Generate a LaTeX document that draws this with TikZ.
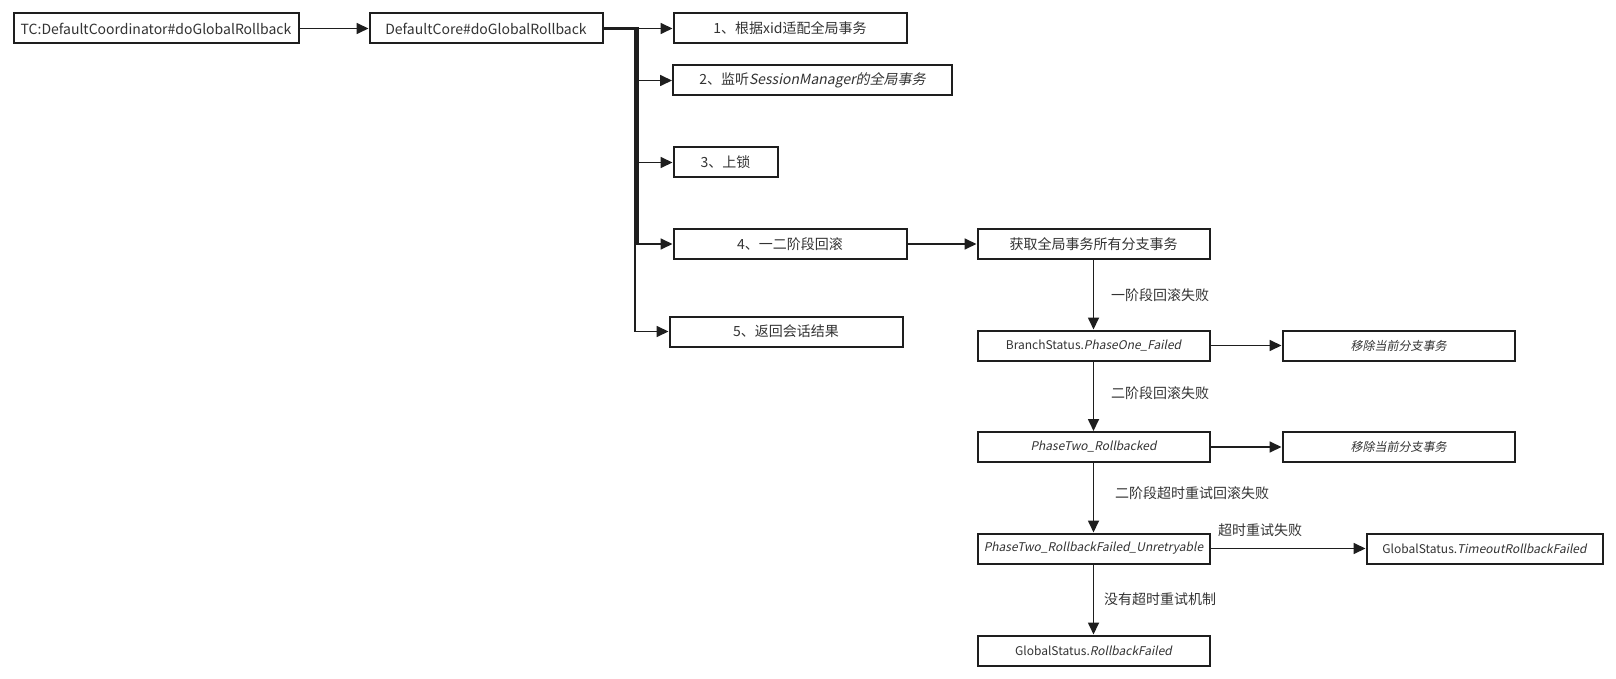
\documentclass[tikz,border=0pt]{standalone}
\usepackage{fontspec}
\setmainfont{Noto Sans CJK SC}[AutoFakeSlant=0.2]
\usetikzlibrary{arrows.meta}
\definecolor{txt}{HTML}{333333}
\definecolor{ln}{HTML}{1E1E1E}
\begin{document}
\begin{tikzpicture}[x=1pt,y=-1pt,
  box/.style={draw=ln, line width=2pt, fill=white, text=txt, inner sep=0pt,
    minimum height=30pt, font=\fontsize{14}{16}\selectfont},
  sbox/.style={box, font=\fontsize{12}{14}\selectfont},
  arr/.style={draw=ln, line width=1.7pt, -{Triangle[length=12pt,width=11pt]}},
  trunkline/.style={draw=ln, line width=3.6pt},
  lbl/.style={text=txt, inner sep=0pt, font=\fontsize{14}{16}\selectfont},
]
\useasboundingbox (0,0) rectangle (1616,679);

% column 1
\node[box, minimum width=285pt] (tc) at (156,28.5) {TC:DefaultCoordinator\#doGlobalRollback};
\node[box, minimum width=233pt] (core) at (486,28.5) {DefaultCore\#doGlobalRollback};

% column 2
\node[box, minimum width=233pt] (b1) at (790,28.5) {1、根据xid适配全局事务};
\node[box, minimum width=279pt] (b2) at (812.5,80.5) {2、监听\textit{SessionManager的全局事务}};
\node[box, minimum width=104pt] (b3) at (725.5,162.5) {3、上锁};
\node[box, minimum width=233pt] (b4) at (790,244) {4、一二阶段回滚};
\node[box, minimum width=233pt] (b5) at (786,331.5) {5、返回会话结果};

% column 3
\node[box, minimum width=232pt] (g) at (1093.5,244) {获取全局事务所有分支事务};
\node[sbox, minimum width=232pt] (p1) at (1093.5,345.5) {BranchStatus.\textit{PhaseOne\_Failed}};
\node[sbox, minimum width=232pt] (p2) at (1093.5,447) {\textit{PhaseTwo\_Rollbacked}};
\node[sbox, minimum width=232pt] (p3) at (1093.5,548.5) {\textit{PhaseTwo\_RollbackFailed\_Unretryable}};
\node[sbox, minimum width=232pt] (f) at (1093.5,650.5) {GlobalStatus.\textit{RollbackFailed}};

% column 4
\node[sbox, minimum width=232pt] (r1) at (1398.5,345.5) {\textit{移除当前分支事务}};
\node[sbox, minimum width=232pt] (r2) at (1398.5,447) {\textit{移除当前分支事务}};
\node[sbox, minimum width=236pt] (t) at (1484.5,548.5) {GlobalStatus.\textit{TimeoutRollbackFailed}};

% edge labels
\node[lbl] (l1) at (1160,295) {一阶段回滚失败};
\node[lbl] (l2) at (1160,393) {二阶段回滚失败};
\node[lbl] (l3) at (1192,493) {二阶段超时重试回滚失败};
\node[lbl] (l4) at (1260,530) {超时重试失败};
\node[lbl] (l5) at (1160,599) {没有超时重试机制};

% connectors
\coordinate (trunk) at (637,28.5);
\coordinate (trunkB) at (637,244);
\coordinate (trunk5) at (635,28.5);

\draw[arr] (tc) -- (core);
\draw[trunkline] (core.east) -- (trunk) -- (trunkB);
\draw[arr] (core.east) -- (b1.west);
\draw[arr] (trunk) |- (b2.west);
\draw[arr] (trunk) |- (b3.west);
\draw[arr] (trunk) |- (b4.west);
\draw[arr] (core.east) -- (trunk5) |- (b5.west);

\draw[arr] (b4) -- (g);
\draw[arr] (g) -- (p1);
\draw[arr] (p1) -- (p2);
\draw[arr] (p2) -- (p3);
\draw[arr] (p3) -- (f);
\draw[arr] (p1) -- (r1);
\draw[arr] (p2) -- (r2);
\draw[arr] (p3) -- (t);
\end{tikzpicture}
\end{document}
